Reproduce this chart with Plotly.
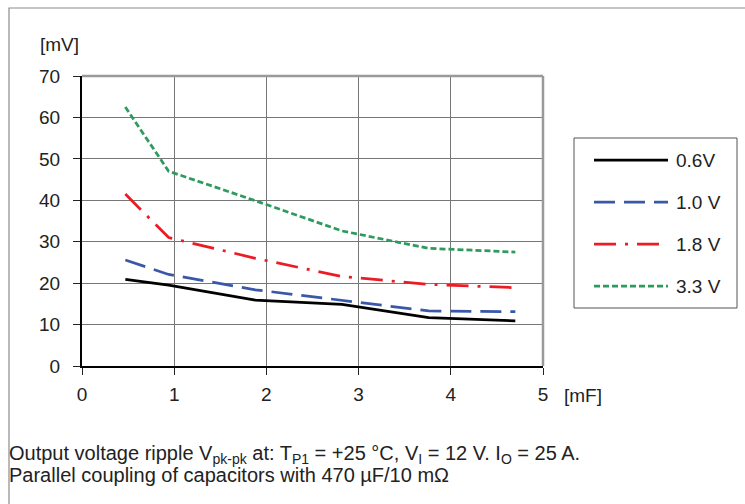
import plotly.graph_objects as go

# Data
capacitance_mF = [0.47, 0.94, 1.88, 2.82, 3.76, 4.70]
ripple_06V = [20.9, 19.5, 15.9, 14.9, 11.7, 10.9]
ripple_10V = [25.6, 22.1, 18.4, 15.9, 13.3, 13.1]
ripple_18V = [41.5, 31.0, 26.0, 21.6, 19.7, 18.9]
ripple_33V = [62.5, 47.0, 39.9, 32.6, 28.4, 27.5]
series_names = ["0.6V", "1.0 V", "1.8 V", "3.3 V"]
x_ticks = [0, 1, 2, 3, 4, 5]
y_ticks = [0, 10, 20, 30, 40, 50, 60, 70]

styles = [
    dict(color="#000000", dash="solid"),
    dict(color="#3a58a8", dash="21px,9px"),
    dict(color="#ec1c24", dash="22px,9px,3px,9px"),
    dict(color="#2e9a5e", dash="6px,3px"),
]
series = [ripple_06V, ripple_10V, ripple_18V, ripple_33V]

fig = go.Figure()
for name, vals, st in zip(series_names, series, styles):
    fig.add_trace(go.Scatter(
        x=capacitance_mF, y=vals, mode="lines", name=name,
        line=dict(color=st["color"], dash=st["dash"], width=2.75),
        showlegend=False,
    ))

FONT = "Liberation Sans, Arial, sans-serif"
W, H = 745, 504
L, R, T, B = 82, 202, 76, 138
pw, ph = W - L - R, H - T - B

def px(xp):
    return (xp - L) / pw

def py(yp):
    return (H - B - yp) / ph

shapes = []
# outer border
shapes.append(dict(type="rect", xref="paper", yref="paper",
                   x0=px(9), x1=px(770), y0=py(8), y1=py(530),
                   line=dict(color="#8c8c8c", width=1.2), layer="below"))
# top and right plot borders (gray)
shapes.append(dict(type="line", xref="paper", yref="paper", x0=0, x1=1, y0=1, y1=1,
                   line=dict(color="#999999", width=2.5)))
shapes.append(dict(type="line", xref="paper", yref="paper", x0=1, x1=1, y0=0, y1=1,
                   line=dict(color="#999999", width=2.5)))
# legend box
shapes.append(dict(type="rect", xref="paper", yref="paper",
                   x0=px(574), x1=px(737), y0=py(308), y1=py(138),
                   line=dict(color="#555555", width=1), fillcolor="white"))

annotations = []
legend_y = [160, 202, 244, 286]
for name, st, ly in zip(series_names, styles, legend_y):
    shapes.append(dict(type="line", xref="paper", yref="paper",
                       x0=px(594), x1=px(668), y0=py(ly), y1=py(ly),
                       line=dict(color=st["color"], dash=st["dash"], width=2.75)))
    annotations.append(dict(xref="paper", yref="paper", x=px(674), y=py(ly),
                            text=name, showarrow=False, xanchor="left", yanchor="middle",
                            font=dict(family=FONT, size=19, color="#222")))

annotations.append(dict(xref="paper", yref="paper", x=px(38), y=py(44), text="[mV]",
                        showarrow=False, xanchor="left", yanchor="middle",
                        font=dict(family=FONT, size=19, color="#222")))
annotations.append(dict(xref="paper", yref="paper", x=px(562), y=py(395), text="[mF]",
                        showarrow=False, xanchor="left", yanchor="middle",
                        font=dict(family=FONT, size=19, color="#222")))
caption_lines = [
    "Output voltage ripple V<sub>pk-pk</sub> at: T<sub>P1</sub> = +25 °C, V<sub>I</sub> = 12 V. I<sub>O</sub> = 25 A.",
    "Parallel coupling of capacitors with 470 µF/10 mΩ",
]
for line, cy in zip(caption_lines, [454, 475]):
    annotations.append(dict(xref="paper", yref="paper", x=px(7), y=py(cy),
                            text=line, showarrow=False, xanchor="left", yanchor="middle",
                            align="left", font=dict(family=FONT, size=20, color="#222")))

fig.update_layout(
    width=W, height=H,
    margin=dict(l=L, r=R, t=T, b=B),
    paper_bgcolor="white", plot_bgcolor="white",
    shapes=shapes, annotations=annotations,
    font=dict(family=FONT, size=19, color="#222"),
)
fig.update_xaxes(range=[0, 5], tickvals=x_ticks, showgrid=True, gridcolor="#777777", gridwidth=1,
                 zeroline=False, showline=True, linecolor="black", linewidth=2,
                 ticks="outside", ticklen=7, tickcolor="#222", tickwidth=1.2,
                 tickfont=dict(size=19), ticklabelstandoff=3)
fig.update_yaxes(range=[0, 70], tickvals=y_ticks, showgrid=True, gridcolor="#777777", gridwidth=1,
                 zeroline=False, showline=True, linecolor="black", linewidth=2,
                 ticks="outside", ticklen=7, tickcolor="#222", tickwidth=1.2,
                 tickfont=dict(size=19), ticklabelstandoff=9)

fig.write_html("out.html", config={"displayModeBar": False},
               post_script="document.body.style.margin='0';")
